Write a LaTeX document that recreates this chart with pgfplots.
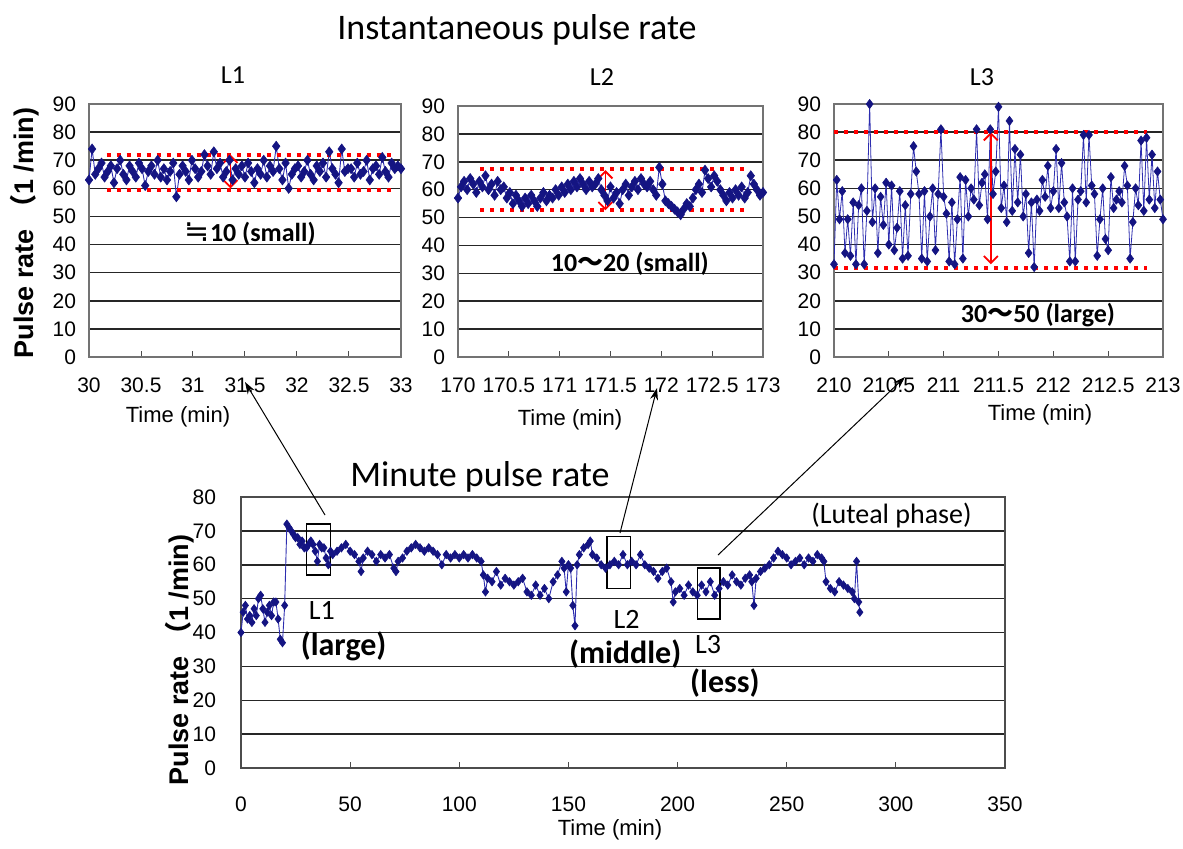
\documentclass[border=0pt]{standalone}
\usepackage{fontspec}
\setmainfont{Liberation Sans}
\newfontfamily\calib{Carlito}
\newfontfamily\cjk{Noto Sans CJK JP}
\newfontfamily\djv{DejaVu Sans}
\usepackage{pgfplots}
\pgfplotsset{compat=1.18}
\usetikzlibrary{arrows.meta}

\definecolor{navy}{RGB}{20,20,130}
\definecolor{lineblue}{RGB}{45,45,175}

\pgfplotsset{
  pr/.style={
    scale only axis, anchor=south west,
    axis line style={black!55, line width=0.6pt},
    ymajorgrids, grid style={black!85, line width=0.75pt},
    ytick style={draw=none},
    xtick pos=left, tick align=inside,
    xtick style={black!70, line width=0.5pt}, major tick length=3pt,
    tick label style={font=\fontsize{10.5}{12}\selectfont},
    /pgf/number format/assume math mode=true,
    yticklabel style={xshift=-3pt},
    xticklabel style={yshift=-7pt},
    clip=false,
  },
  ser/.style={color=lineblue, line width=0.45pt, mark=diamond*, mark size=2.5pt,
    mark options={draw=navy, fill=navy, line width=0.3pt}},
  reddot/.style={red, line width=2pt, dash pattern=on 2pt off 3pt, forget plot},
}
\tikzset{
  redarr/.style={red, line width=0.9pt, {Straight Barb[length=3.5pt]}-{Straight Barb[length=3.5pt]}},
  note/.style={font=\calib\bfseries\fontsize{13}{15}\selectfont},
}

\begin{document}
\begin{tikzpicture}
\path[use as bounding box] (0,0) rectangle (591.5pt,-424pt);

% ---------- L1 ----------
\begin{axis}[pr, at={(44.5pt,-178.5pt)}, width=156pt, height=126.5pt,
  xmin=30, xmax=33, ymin=0, ymax=90, ytick={0,10,...,90},
  xtick={30,30.5,31,31.5,32,32.5,33}]
\addplot[ser] coordinates {
(30.00,63)(30.03,74)(30.06,65)(30.09,67)(30.12,69)(30.15,64)(30.18,66)(30.21,68)(30.24,62)(30.27,67)
(30.30,70)(30.33,65)(30.36,63)(30.39,68)(30.42,66)(30.45,64)(30.48,69)(30.51,67)(30.54,61)(30.57,66)
(30.60,68)(30.63,65)(30.66,70)(30.69,64)(30.72,67)(30.75,63)(30.78,66)(30.81,69)(30.84,57)(30.87,65)
(30.90,68)(30.93,66)(30.96,63)(30.99,70)(31.02,67)(31.05,64)(31.08,66)(31.11,72)(31.14,68)(31.17,65)
(31.20,73)(31.23,67)(31.26,69)(31.29,64)(31.32,66)(31.35,70)(31.38,63)(31.41,67)(31.44,65)(31.47,68)
(31.50,64)(31.53,69)(31.56,66)(31.59,62)(31.62,67)(31.65,65)(31.68,70)(31.71,64)(31.74,68)(31.77,66)
(31.80,75)(31.83,67)(31.86,63)(31.89,69)(31.92,60)(31.95,65)(31.98,67)(32.01,68)(32.04,64)(32.07,66)
(32.10,70)(32.13,65)(32.16,63)(32.19,68)(32.22,66)(32.25,69)(32.28,64)(32.31,73)(32.34,67)(32.37,65)
(32.40,62)(32.43,74)(32.46,66)(32.49,67)(32.52,67)(32.55,64)(32.58,69)(32.61,65)(32.64,66)(32.67,70)
(32.70,63)(32.73,67)(32.76,68)(32.79,65)(32.82,71)(32.85,66)(32.88,64)(32.91,69)(32.94,67)(32.97,68)
(33.00,67)};
\addplot[reddot] coordinates {(30.17,72)(32.91,72)};
\addplot[reddot] coordinates {(30.17,59.5)(32.91,59.5)};
\draw[redarr] (axis cs:31.36,60) -- (axis cs:31.36,72);
\node[note] at (axis cs:31.55,44) {{\djv\mdseries\fontsize{15}{15}\selectfont ≒}10 (small)};
\end{axis}

% ---------- L2 ----------
\begin{axis}[pr, at={(229pt,-178.5pt)}, width=152.5pt, height=125.5pt,
  xmin=170, xmax=173, ymin=0, ymax=90, ytick={0,10,...,90},
  xtick={170,170.5,171,171.5,172,172.5,173}]
\addplot[ser] coordinates {
(170.00,57)(170.03,61)(170.06,63)(170.09,60)(170.12,64)(170.15,62)(170.18,59)(170.21,63)(170.24,61)(170.27,65)
(170.30,60)(170.33,62)(170.36,58)(170.39,63)(170.42,60)(170.45,61)(170.48,57)(170.51,59)(170.54,55)(170.57,58)
(170.60,56)(170.63,54)(170.66,57)(170.69,55)(170.72,58)(170.75,56)(170.78,54)(170.81,57)(170.84,59)(170.87,56)
(170.90,58)(170.93,57)(170.96,60)(170.99,58)(171.02,61)(171.05,59)(171.08,62)(171.11,60)(171.14,63)(171.17,61)
(171.20,64)(171.23,62)(171.26,60)(171.29,63)(171.32,61)(171.35,62)(171.38,64)(171.41,60)(171.44,58)(171.47,56)
(171.50,61)(171.53,57)(171.56,59)(171.59,55)(171.62,60)(171.65,62)(171.68,58)(171.71,61)(171.74,63)(171.77,60)
(171.80,64)(171.83,62)(171.86,61)(171.89,63)(171.92,60)(171.95,58)(171.98,68)(172.01,62)(172.04,56)(172.07,55)
(172.10,54)(172.13,53)(172.16,52)(172.19,51)(172.22,53)(172.25,55)(172.28,54)(172.31,57)(172.34,60)(172.37,62)
(172.40,59)(172.43,67)(172.46,64)(172.49,61)(172.52,65)(172.55,63)(172.58,60)(172.61,58)(172.64,56)(172.67,59)
(172.70,57)(172.73,60)(172.76,58)(172.79,61)(172.82,57)(172.85,59)(172.88,65)(172.91,62)(172.94,60)(172.97,58)
(173.00,59)};
\addplot[reddot] coordinates {(170.22,67.3)(172.82,67.3)};
\addplot[reddot] coordinates {(170.22,52.6)(172.82,52.6)};
\draw[redarr] (axis cs:171.45,52.6) -- (axis cs:171.45,67);
\node[note] at (axis cs:171.69,33.3) {10{\cjk ～}20 (small)};
\end{axis}

% ---------- L3 ----------
\begin{axis}[pr, at={(417pt,-178.5pt)}, width=164.5pt, height=126.5pt,
  xmin=210, xmax=213, ymin=0, ymax=90, ytick={0,10,...,90},
  xtick={210,210.5,211,211.5,212,212.5,213}]
\addplot[ser, line width=0.4pt, mark size=2.3pt] coordinates {
(210.000,33)(210.025,63)(210.050,49)(210.075,59)(210.100,37)(210.125,49)(210.150,36)(210.175,55)(210.200,33)(210.225,54)
(210.250,60)(210.275,33)(210.300,52)(210.325,90)(210.350,48)(210.375,60)(210.400,37)(210.425,57)(210.450,47)(210.475,62)
(210.500,40)(210.525,61)(210.550,38)(210.575,46)(210.600,59)(210.625,35)(210.650,54)(210.675,36)(210.700,58)(210.725,75)
(210.750,66)(210.775,58)(210.800,35)(210.825,59)(210.850,34)(210.875,50)(210.900,60)(210.925,38)(210.950,58)(210.975,81)
(211.000,57)(211.025,51)(211.050,34)(211.075,55)(211.100,33)(211.125,49)(211.150,64)(211.175,35)(211.200,63)(211.225,50)
(211.250,60)(211.275,56)(211.300,81)(211.325,54)(211.350,62)(211.375,65)(211.400,49)(211.425,81)(211.450,58)(211.475,66)
(211.500,89)(211.525,53)(211.550,61)(211.575,48)(211.600,84)(211.625,52)(211.650,74)(211.675,55)(211.700,72)(211.725,50)
(211.750,58)(211.775,37)(211.800,55)(211.825,32)(211.850,56)(211.875,52)(211.900,63)(211.925,57)(211.950,68)(211.975,53)
(212.000,59)(212.025,74)(212.050,53)(212.075,69)(212.100,55)(212.125,50)(212.150,34)(212.175,60)(212.200,34)(212.225,56)
(212.250,59)(212.275,79)(212.300,55)(212.325,79)(212.350,61)(212.375,58)(212.400,36)(212.425,49)(212.450,60)(212.475,42)
(212.500,38)(212.525,64)(212.550,53)(212.575,56)(212.600,59)(212.625,55)(212.650,68)(212.675,61)(212.700,35)(212.725,48)
(212.750,60)(212.775,54)(212.800,77)(212.825,52)(212.850,78)(212.875,56)(212.900,72)(212.925,53)(212.950,66)(212.975,56)
(213.000,49)};
\addplot[reddot] coordinates {(210.0,80)(212.85,80)};
\addplot[reddot] coordinates {(210.0,31.7)(212.85,31.7)};
\draw[redarr] (axis cs:211.43,33) -- (axis cs:211.43,80);
\node[note] at (axis cs:211.86,14.9) {30{\cjk ～}50 (large)};
\end{axis}

% ---------- Minute pulse rate ----------
\begin{axis}[pr, at={(120.5pt,-384pt)}, width=382pt, height=135.5pt,
  axis line style={black!70, line width=0.8pt},
  xmin=0, xmax=350, ymin=0, ymax=80, ytick={0,10,...,80},
  xtick={0,50,...,350}, xticklabel style={yshift=-4pt}, yticklabel style={xshift=-6pt}]
\addplot[ser, mark size=2.1pt] coordinates {
(0,40)(1,46)(2,48)(3,44)(4,45)(5,43)(6,47)(7,45)(8,50)(9,51)(10,47)(11,43)(12,46)(13,48)(14,45)(15,49)
(16,49)(17,44)(18,38)(19,37)(20,48)(21,72)(22,71)(23,70)(24,69)(25,68)(26,68)(27,66)(28,67)(29,65)(30,65)
(31,66)(32,67)(33,66)(34,64)(35,61)(36,66)(37,65)(38,65)(39,62)(40,60)(41,64)(42,63)(44,64)(46,65)(48,66)
(50,64)(52,63)(54,61)(55,58)(56,62)(58,64)(60,63)(62,61)(64,63)(66,62)(68,63)(70,59)(71,58)(72,61)(74,62)
(76,64)(78,65)(80,66)(82,65)(84,64)(86,65)(88,64)(90,63)(92,60)(94,63)(96,62)(98,63)(100,62)(102,63)
(104,62)(106,63)(108,62)(110,61)(111,57)(112,52)(113,56)(115,55)(117,58)(119,54)(121,56)(123,55)(125,54)
(127,55)(129,56)(131,52)(133,51)(135,54)(137,51)(139,53)(141,50)(143,55)(145,57)(147,61)(148,59)(149,52)
(150,60)(151,59)(152,48)(153,42)(154,60)(155,63)(157,65)(159,66)(160,67)(161,63)(163,62)(165,60)(167,59)
(169,60)(171,61)(173,60)(175,63)(177,60)(179,61)(181,60)(183,63)(185,60)(187,59)(189,58)(191,56)(193,58)
(195,59)(197,55)(198,49)(199,52)(201,53)(203,51)(205,54)(207,52)(209,51)(211,54)(213,52)(215,55)(217,51)
(219,53)(221,55)(223,54)(225,57)(227,55)(229,54)(231,56)(233,57)(234,55)(235,48)(236,56)(238,58)(240,59)
(242,60)(244,62)(246,64)(248,63)(250,62)(252,60)(254,61)(256,62)(258,60)(260,62)(262,61)(264,63)(266,62)
(267,61)(268,55)(270,53)(272,52)(274,55)(276,54)(278,53)(280,52)(281,50)(282,61)(283,49)(283.5,46)};
\draw[black, line width=0.7pt] (axis cs:30,57) rectangle (axis cs:41,72);
\draw[black, line width=0.7pt] (axis cs:167.7,53) rectangle (axis cs:178.5,68.4);
\draw[black, line width=0.7pt] (axis cs:209,44) rectangle (axis cs:219.5,59);
\node[font=\calib\fontsize{14}{16}\selectfont] at (axis cs:37,46.5) {L1};
\node[font=\calib\bfseries\fontsize{16}{18}\selectfont] at (axis cs:47,36) {(large)};
\node[font=\calib\fontsize{14}{16}\selectfont] at (axis cs:176.6,43.8) {L2};
\node[font=\calib\bfseries\fontsize{16}{18}\selectfont] at (axis cs:176,33.5) {(middle)};
\node[font=\calib\fontsize{14}{16}\selectfont] at (axis cs:214,36.4) {L3};
\node[font=\calib\bfseries\fontsize{16}{18}\selectfont] at (axis cs:221.7,25) {(less)};
\node[font=\calib\fontsize{14}{16}\selectfont] at (axis cs:298,74.6) {(Luteal phase)};
\end{axis}

% titles and labels
\node[font=\calib\fontsize{18}{20}\selectfont] at (258.5pt,-15pt) {Instantaneous pulse rate};
\node[font=\calib\fontsize{18}{20}\selectfont] at (240pt,-238.5pt) {Minute pulse rate};
\node[font=\calib\fontsize{13}{15}\selectfont] at (116.5pt,-37.5pt) {L1};
\node[font=\calib\fontsize{13}{15}\selectfont] at (301pt,-38.5pt) {L2};
\node[font=\calib\fontsize{13}{15}\selectfont] at (491pt,-38.5pt) {L3};
\node[font=\fontsize{11}{13}\selectfont] at (89pt,-208.5pt) {Time (min)};
\node[font=\fontsize{11}{13}\selectfont] at (285pt,-210pt) {Time (min)};
\node[font=\fontsize{11}{13}\selectfont] at (520pt,-207.5pt) {Time (min)};
\node[font=\fontsize{11}{13}\selectfont] at (305pt,-415pt) {Time (min)};
\node[rotate=90, font=\bfseries\fontsize{13.5}{15}\selectfont] at (12.5pt,-116.5pt) {Pulse rate\ {\cjk （}1 /min)};
\node[rotate=90, font=\bfseries\fontsize{13.5}{15}\selectfont] at (90pt,-330pt) {Pulse rate\ {\cjk （}1 /min)};

% connecting arrows
\draw[-{Stealth[length=6pt,width=4pt]}, line width=0.5pt] (162.5pt,-257.5pt) -- (122.5pt,-191pt);
\draw[-{Stealth[length=6pt,width=4pt]}, line width=0.5pt] (310pt,-266.5pt) -- (328.5pt,-194pt);
\draw[-{Stealth[length=6pt,width=4pt]}, line width=0.5pt] (359pt,-277.5pt) -- (452.5pt,-188.5pt);
\end{tikzpicture}
\end{document}
